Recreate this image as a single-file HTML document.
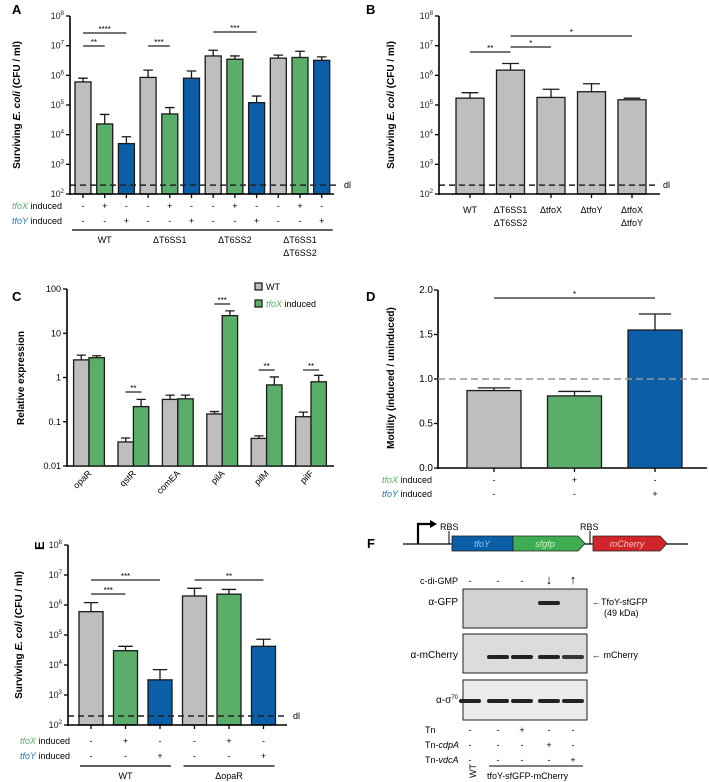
<!DOCTYPE html>
<html><head><meta charset="utf-8"><style>
html,body{margin:0;padding:0;background:#fff;}
svg{display:block;font-family:"Liberation Sans",sans-serif;}
</style></head><body>
<svg id="fig" width="709" height="782" viewBox="0 0 709 782" xmlns="http://www.w3.org/2000/svg">
<g id="pA"></g>
<g id="pB"></g>
<g id="pC"></g>
<g id="pD"></g>
<g id="pE"></g>
<g id="pF">
  <text x="367" y="548" font-size="13" font-weight="bold">F</text>
  <line x1="403" y1="544" x2="688" y2="544" stroke="#000" stroke-width="1.3"/>
  <path d="M418 544 V524 H430" fill="none" stroke="#000" stroke-width="2.2"/>
  <polygon points="430,520 437,524 430,528" fill="#000"/>
  <line x1="449" y1="531" x2="449" y2="544" stroke="#000"/>
  <text x="440" y="530" font-size="9">RBS</text>
  <rect x="452" y="536" width="61" height="15" fill="#0b5ea8" stroke="#222" stroke-width="0.8"/>
  <text x="482" y="547" font-size="9" font-style="italic" fill="#9cc6ee" text-anchor="middle">tfoY</text>
  <polygon points="513,536 578,536 585,543.5 578,551 513,551" fill="#3fae52" stroke="#222" stroke-width="0.8"/>
  <text x="545" y="547" font-size="9" font-style="italic" fill="#c9f0c9" text-anchor="middle">sfgfp</text>
  <line x1="590" y1="531" x2="590" y2="544" stroke="#000"/>
  <text x="580" y="530" font-size="9">RBS</text>
  <polygon points="593,536 660,536 667,543.5 660,551 593,551" fill="#d0262a" stroke="#222" stroke-width="0.8"/>
  <text x="627" y="547" font-size="9" font-style="italic" fill="#f7c4c4" text-anchor="middle">mCherry</text>
  <text x="458" y="584" font-size="9" text-anchor="end">c-di-GMP</text>
  <rect x="463" y="589" width="124" height="39" fill="#d2d2d2" stroke="#222"/>
  <rect x="463" y="634" width="124" height="39" fill="#dcdcdc" stroke="#222"/>
  <rect x="463" y="680" width="124" height="40" fill="#ebebeb" stroke="#222"/>
  <text x="458" y="605" font-size="10" text-anchor="end">α-GFP</text>
  <text x="458" y="658" font-size="10" text-anchor="end">α-mCherry</text>
  <text x="458" y="703" font-size="10" text-anchor="end">α-σ<tspan font-size="6" dy="-4">70</tspan></text>
  <text x="592" y="605" font-size="9">←TfoY-sfGFP</text>
  <text x="604" y="616" font-size="9">(49 kDa)</text>
  <text x="592" y="658" font-size="9">← mCherry</text>
  <text x="425" y="733" font-size="9">Tn</text>
  <text x="425" y="748" font-size="9">Tn-<tspan font-style="italic">cdpA</tspan></text>
  <text x="425" y="763" font-size="9">Tn-<tspan font-style="italic">vdcA</tspan></text>
  <line x1="489" y1="766" x2="583" y2="766" stroke="#000"/>
  <text transform="translate(476,778) rotate(-90)" font-size="9">WT</text>
  <text x="487" y="779" font-size="9">tfoY-sfGFP-mCherry</text>
</g>
<script>
// ---------- data ----------
const A_groups=["WT","ΔT6SS1","ΔT6SS2","ΔT6SS1 ΔT6SS2"];
const A_values=[6e5,2.3e4,5e3, 8.5e5,5e4,8e5, 4.5e6,3.5e6,1.2e5, 3.8e6,4e6,3.2e6];
const A_errTop=[8e5,4.8e4,8.5e3, 1.5e6,8.2e4,1.4e6, 7e6,4.5e6,2e5, 4.8e6,6.5e6,4.2e6];
const A_tfoX=["-","+","-","-","+","-","-","+","-","-","+","-"];
const A_tfoY=["-","-","+","-","-","+","-","-","+","-","-","+"];
const B_categories=["WT","ΔT6SS1|ΔT6SS2","ΔtfoX","ΔtfoY","ΔtfoX|ΔtfoY"];
const B_values=[1.7e5,1.5e6,1.8e5,2.8e5,1.5e5];
const B_errTop=[2.6e5,2.5e6,3.4e5,5.2e5,1.7e5];
const C_categories=["opaR","qstR","comEA","pilA","pilM","pilF"];
const C_wt=[2.5,0.035,0.32,0.15,0.042,0.13];
const C_wtErr=[3.2,0.043,0.4,0.17,0.048,0.165];
const C_tfoX=[2.8,0.22,0.33,25,0.68,0.8];
const C_tfoXErr=[3.1,0.32,0.4,32,1.03,1.12];
const C_ticks=["0.01","0.1","1","10","100"];
const D_values=[0.87,0.81,1.55];
const D_errTop=[0.9,0.86,1.73];
const D_ticks=["0.0","0.5","1.0","1.5","2.0"];
const D_tfoX=["-","+","-"];
const D_tfoY=["-","-","+"];
const E_groups=["WT","ΔopaR"];
const E_values=[6e5,3e4,3.2e3,2e6,2.3e6,4.2e4];
const E_errTop=[1.2e6,4.2e4,7e3,3.6e6,3.3e6,7.2e4];
const E_tfoX=["-","+","-","-","+","-"];
const E_tfoY=["-","-","+","-","-","+"];
const F_cdigmp=["-","-","-","↓","↑"];
const F_tn=["-","-","+","-","-"];
const F_cdpA=["-","-","-","+","-"];
const F_vdcA=["-","-","-","-","+"];
const F_gfpBand=[0,0,0,1,0];
const F_mcherryBand=[0,1,1,1,0.9];
const F_sigmaBand=[1,1,1,1,1];
const detLimit=200;

const NS="http://www.w3.org/2000/svg";
const GRAY="#bfbebe",GREEN="#5aae6a",BLUE="#0b5ea8";
function mk(parent,tag,attrs,text){const e=document.createElementNS(NS,tag);for(const k in attrs)e.setAttribute(k,attrs[k]);if(text!==undefined)e.textContent=text;parent.appendChild(e);return e;}
function logY(v,yTop,yBot,dMin,dMax){return yBot-(Math.log10(v)-dMin)*(yBot-yTop)/(dMax-dMin);}

function logAxis(g,x,yTop,yBot,dMin,dMax,x2,pre){
  const ax=mk(g,"line",{x1:x,y1:yTop,x2:x,y2:yBot+1,stroke:"#000","stroke-width":1.6});
  
  
  const bx=mk(g,"line",{x1:x-1,y1:yBot,x2:x2,y2:yBot,stroke:"#000","stroke-width":1.6});
  
  
  for(let d=dMin;d<=dMax;d++){
    const y=logY(Math.pow(10,d),yTop,yBot,dMin,dMax);
    const t=mk(g,"line",{x1:x-4,y1:y,x2:x,y2:y,stroke:"#000","stroke-width":1.3});
    
    
    const l=mk(g,"text",{x:x-6,y:y+3,"font-size":9,"text-anchor":"end",fill:"#222"});
    
    
    l.appendChild(document.createTextNode("10"));
    mk(l,"tspan",{dy:-4,"font-size":6},String(d));
  }
}
function bar(g,cx,w,yv,yb,yerr,color,name){
  const r=mk(g,"rect",{x:cx-w/2,y:yv,width:w,height:yb-yv,fill:color,stroke:"#1a1a1a","stroke-width":1.3});
  
  
  const e=mk(g,"path",{d:`M${cx} ${yv} V${yerr} M${cx-w*0.3} ${yerr} H${cx+w*0.3}`,stroke:"#1a1a1a","stroke-width":1.3,fill:"none"});
  
  
}
function sig(g,x1,x2,y,txt){
  const l=mk(g,"line",{x1:x1,y1:y,x2:x2,y2:y,stroke:"#222","stroke-width":1.2});
  
  
  const t=mk(g,"text",{x:(x1+x2)/2,y:y-1,"font-size":8,"text-anchor":"middle"},txt);
  
  
}
function txt(g,x,y,s,attrs,name){const t=mk(g,"text",Object.assign({x:x,y:y,"font-size":9},attrs||{}),s);return t;}
function ytitle(g,x,y,name,parts){
  const t=mk(g,"text",{transform:`translate(${x},${y}) rotate(-90)`,"font-size":10,"font-weight":"bold","text-anchor":"middle"});
  
  
  parts.forEach(p=>{mk(t,"tspan",p[1]?{"font-style":"italic"}:{},p[0]);});
}
function induceRows(g,xs,tx,ty,yX,yY,labelX){
  const a=txt(g,labelX,yX+3,"",{"text-anchor":"end"},"tfox-induced-label");
  mk(a,"tspan",{"font-style":"italic",fill:"#5aae6a"},"tfoX");a.appendChild(document.createTextNode(" induced"));
  const b=txt(g,labelX,yY+3,"",{"text-anchor":"end"},"tfoy-induced-label");
  mk(b,"tspan",{"font-style":"italic",fill:"#1d76b8"},"tfoY");b.appendChild(document.createTextNode(" induced"));
  xs.forEach((x,i)=>{txt(g,x,yX+3,tx[i],{"text-anchor":"middle"},"tfox-sign");txt(g,x,yY+3,ty[i],{"text-anchor":"middle"},"tfoy-sign");});
}

// ---------- Panel A ----------
(function(){
  const g=document.getElementById("pA");
  const yT=16,yB=194,x0=70;
  txt(g,12,14,"A",{"font-size":13,"font-weight":"bold"},"panel-a-label");
  const cols=[GRAY,GREEN,BLUE];
  const xs=A_values.map((v,i)=>83+i*21.7);
  A_values.forEach((v,i)=>{
    bar(g,xs[i],16,logY(v,yT,yB,2,8),yB,logY(A_errTop[i],yT,yB,2,8),cols[i%3],"bar-a-"+i);
    const tk=mk(g,"line",{x1:xs[i],y1:yB,x2:xs[i],y2:yB+4,stroke:"#000","stroke-width":1.3});
    
    
  });
  const dy=logY(detLimit,yT,yB,2,8);
  const dl=mk(g,"line",{x1:x0,y1:dy,x2:338,y2:dy,stroke:"#222","stroke-width":1.5,"stroke-dasharray":"6,4"});
  
  
  txt(g,344,dy+3,"dl",{},"detection-limit-label");
  logAxis(g,x0,yT,yB,2,8,334,"a");
  ytitle(g,20,105,"a-y-axis-title",[["Surviving "],["E. coli",1],[" (CFU / ml)"]]);
  induceRows(g,xs,A_tfoX,A_tfoY,206,221,62);
  A_groups.forEach((n,k)=>{
    const l=mk(g,"line",{x1:xs[k*3]-11,y1:230,x2:xs[k*3+2]+11,y2:230,stroke:"#000","stroke-width":1.3});
    
    
    const parts=n.split(" ");
    parts.forEach((p,j)=>txt(g,xs[k*3+1],243+j*13,p,{"text-anchor":"middle"},"group-label"));
  });
  sig(g,xs[0],xs[2],33,"****");sig(g,xs[0],xs[1],46,"**");sig(g,xs[3],xs[4],46,"***");sig(g,xs[6],xs[8],32,"***");
})();

// ---------- Panel B ----------
(function(){
  const g=document.getElementById("pB");
  const yT=16,yB=194,x0=439;
  txt(g,366,14,"B",{"font-size":13,"font-weight":"bold"},"panel-b-label");
  const xs=B_values.map((v,i)=>470+i*40.5);
  B_values.forEach((v,i)=>{
    bar(g,xs[i],28,logY(v,yT,yB,2,8),yB,logY(B_errTop[i],yT,yB,2,8),GRAY,"bar-b-"+i);
    const tk=mk(g,"line",{x1:xs[i],y1:yB,x2:xs[i],y2:yB+4,stroke:"#000","stroke-width":1.3});
    
    
    B_categories[i].split("|").forEach((p,j)=>txt(g,xs[i],213+j*13,p,{"text-anchor":"middle"},"x-category-label"));
  });
  const dy=logY(detLimit,yT,yB,2,8);
  const dl=mk(g,"line",{x1:x0,y1:dy,x2:656,y2:dy,stroke:"#222","stroke-width":1.5,"stroke-dasharray":"6,4"});
  
  
  txt(g,663,dy+3,"dl",{},"detection-limit-label");
  logAxis(g,x0,yT,yB,2,8,660,"b");
  ytitle(g,394,105,"b-y-axis-title",[["Surviving "],["E. coli",1],[" (CFU / ml)"]]);
  sig(g,xs[0],xs[1],52,"**");sig(g,xs[1],xs[2],47,"*");sig(g,xs[1],xs[4],36,"*");
})();

// ---------- Panel C ----------
(function(){
  const g=document.getElementById("pC");
  const yT=289,yB=466,x0=67;
  txt(g,12,301,"C",{"font-size":13,"font-weight":"bold"},"panel-c-label");
  const ax=mk(g,"line",{x1:x0,y1:yT,x2:x0,y2:yB+1,stroke:"#000","stroke-width":1.6});
  
  
  const bx=mk(g,"line",{x1:x0-1,y1:yB,x2:334,y2:yB,stroke:"#000","stroke-width":1.6});
  
  
  C_ticks.forEach((s,i)=>{
    const y=logY(parseFloat(s),yT,yB,-2,2);
    const t=mk(g,"line",{x1:x0-4,y1:y,x2:x0,y2:y,stroke:"#000","stroke-width":1.3});
    
    
    txt(g,x0-6,y+3,s,{"text-anchor":"end"},"y-tick-label");
  });
  const xs=C_categories.map((c,i)=>89+i*44.4);
  C_categories.forEach((c,i)=>{
    bar(g,xs[i]-7.7,15.4,logY(C_wt[i],yT,yB,-2,2),yB,logY(C_wtErr[i],yT,yB,-2,2),GRAY,"bar-c-wt-"+c);
    bar(g,xs[i]+7.7,15.4,logY(C_tfoX[i],yT,yB,-2,2),yB,logY(C_tfoXErr[i],yT,yB,-2,2),GREEN,"bar-c-tfox-"+c);
    txt(g,xs[i]+3,474,c,{"text-anchor":"end",transform:`rotate(-45 ${xs[i]+3} 474)`},"x-category-label");
  });
  ytitle(g,24,378,"c-y-axis-title",[["Relative expression"]]);
  const l1=mk(g,"rect",{x:255,y:283,width:7,height:7,fill:GRAY,stroke:"#222","stroke-width":1.3});
  
  
  txt(g,266,290,"WT",{},"legend-wt");
  const l2=mk(g,"rect",{x:255,y:300,width:7,height:7,fill:GREEN,stroke:"#222","stroke-width":1.3});
  
  
  const lt=txt(g,266,307,"",{},"legend-tfox");
  mk(lt,"tspan",{"font-style":"italic",fill:"#5aae6a"},"tfoX");lt.appendChild(document.createTextNode(" induced"));
  sig(g,xs[3]-8,xs[3]+8,304,"***");sig(g,xs[1]-8,xs[1]+8,392,"**");sig(g,xs[4]-8,xs[4]+8,370,"**");sig(g,xs[5]-8,xs[5]+8,370,"**");
})();

// ---------- Panel D ----------
(function(){
  const g=document.getElementById("pD");
  const yT=290,yB=468,x0=438;
  const y=v=>yB-v*(yB-yT)/2;
  txt(g,366,301,"D",{"font-size":13,"font-weight":"bold"},"panel-d-label");
  const ax=mk(g,"line",{x1:x0,y1:yT,x2:x0,y2:yB+1,stroke:"#000","stroke-width":1.6});
  
  
  const bx=mk(g,"line",{x1:x0-1,y1:yB,x2:707,y2:yB,stroke:"#000","stroke-width":1.6});
  
  
  D_ticks.forEach(s=>{
    const yy=y(parseFloat(s));
    const t=mk(g,"line",{x1:x0-4,y1:yy,x2:x0,y2:yy,stroke:"#000","stroke-width":1.3});
    
    
    txt(g,x0-5,yy+3,s,{"text-anchor":"end","font-size":10},"y-tick-label");
  });
  const cols=[GRAY,GREEN,BLUE];
  const xs=D_values.map((v,i)=>494+i*80.5);
  D_values.forEach((v,i)=>{
    bar(g,xs[i],54,y(v),yB,y(D_errTop[i]),cols[i],"bar-d-"+i);
    const tk=mk(g,"line",{x1:xs[i],y1:yB,x2:xs[i],y2:yB+4,stroke:"#000","stroke-width":1.3});
    
    
  });
  const rl=mk(g,"line",{x1:x0,y1:y(1),x2:709,y2:y(1),stroke:"#999","stroke-width":1.5,"stroke-dasharray":"7,4"});
  
  
  ytitle(g,394,378,"d-y-axis-title",[["Motility (induced / uninduced)"]]);
  induceRows(g,xs,D_tfoX,D_tfoY,480,494,432);
  sig(g,xs[0],xs[2],298,"*");
})();

// ---------- Panel E ----------
(function(){
  const g=document.getElementById("pE");
  const yT=545,yB=725,x0=68;
  txt(g,34,548,"E",{"font-size":13,"font-weight":"bold",transform:"rotate(-90 40 544)"},"panel-e-label");
  const cols=[GRAY,GREEN,BLUE];
  const xs=E_values.map((v,i)=>91+i*34.5);
  E_values.forEach((v,i)=>{
    bar(g,xs[i],24,logY(v,yT,yB,2,8),yB,logY(E_errTop[i],yT,yB,2,8),cols[i%3],"bar-e-"+i);
    const tk=mk(g,"line",{x1:xs[i],y1:yB,x2:xs[i],y2:yB+4,stroke:"#000","stroke-width":1.3});
    
    
  });
  const dy=logY(detLimit,yT,yB,2,8);
  const dl=mk(g,"line",{x1:x0,y1:dy,x2:287,y2:dy,stroke:"#222","stroke-width":1.5,"stroke-dasharray":"6,4"});
  
  
  txt(g,293,dy+3,"dl",{},"detection-limit-label");
  logAxis(g,x0,yT,yB,2,8,287,"e");
  ytitle(g,22,635,"e-y-axis-title",[["Surviving "],["E. coli",1],[" (CFU / ml)"]]);
  induceRows(g,xs,E_tfoX,E_tfoY,741,756,70);
  E_groups.forEach((n,k)=>{
    const l=mk(g,"line",{x1:xs[k*3]-11,y1:766,x2:xs[k*3+2]+11,y2:766,stroke:"#000","stroke-width":1.3});
    
    
    txt(g,xs[k*3+1],779,n,{"text-anchor":"middle"},"group-label");
  });
  sig(g,xs[0],xs[2],580,"***");sig(g,xs[0],xs[1],594,"***");sig(g,xs[3],xs[5],580,"**");
})();

// ---------- Panel F lanes ----------
(function(){
  const g=document.getElementById("pF");
  const lanes=[470,498,522,549,573];
  F_cdigmp.forEach((s,i)=>txt(g,lanes[i],584,s,{"text-anchor":"middle","font-size":s==="-"?9:13,"font-weight":s==="-"?"normal":"bold"},"c-di-gmp-sign"));
  F_tn.forEach((s,i)=>txt(g,lanes[i],733,s,{"text-anchor":"middle"},"tn-sign"));
  F_cdpA.forEach((s,i)=>txt(g,lanes[i],748,s,{"text-anchor":"middle"},"tn-cdpa-sign"));
  F_vdcA.forEach((s,i)=>txt(g,lanes[i],763,s,{"text-anchor":"middle"},"tn-vdca-sign"));
  function bands(arr,y,name){arr.forEach((v,i)=>{if(v>0){const b=mk(g,"rect",{x:lanes[i]-11,y:y,width:22,height:4,rx:2,fill:"#222","fill-opacity":v});}});}
  bands(F_gfpBand,601,"gfp-band");
  bands(F_mcherryBand,655,"mcherry-band");
  bands(F_sigmaBand,699,"sigma70-band");
})();
</script>
</svg>
</body></html>
